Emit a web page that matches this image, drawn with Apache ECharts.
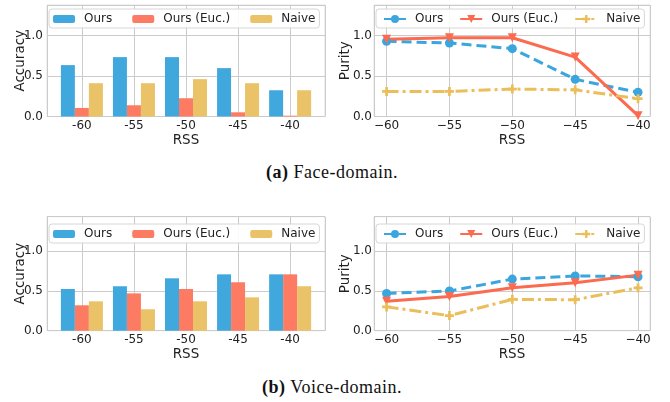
<!DOCTYPE html>
<html>
<head>
<meta charset="utf-8">
<script src="https://cdn.jsdelivr.net/npm/echarts@6/dist/echarts.min.js"></script>
<style>
  html, body { margin: 0; padding: 0; background: #fff; }
  body { width: 670px; height: 402px; position: relative; overflow: hidden; }
  .panel { position: absolute; }
  .caption { position: absolute; left: 0; width: 664px; text-align: center; font-family: 'Liberation Serif', serif; font-size: 18px; letter-spacing: 0.5px; color: #111; }
</style>
</head>
<body>
<div id="faceAcc" class="panel" style="left:0;top:0;width:335px;height:150px"></div>
<div id="facePur" class="panel" style="left:335px;top:0;width:335px;height:150px"></div>
<div class="caption" style="top:162px"><b>(a)</b> Face-domain.</div>
<div id="voiceAcc" class="panel" style="left:0;top:205px;width:335px;height:160px"></div>
<div id="voicePur" class="panel" style="left:335px;top:205px;width:335px;height:160px"></div>
<div class="caption" style="top:377px"><b>(b)</b> Voice-domain.</div>

<script>
// data
const rss = [-60, -55, -50, -45, -40]
const seriesNames = ['Ours', 'Ours (Euc.)', 'Naive']
const yTicks = [0, 0.5, 1.0]

const faceAccOurs = [0.636, 0.735, 0.735, 0.599, 0.325]
const faceAccEuc = [0.106, 0.139, 0.226, 0.052, 0.01]
const faceAccNaive = [0.412, 0.412, 0.462, 0.412, 0.325]

const facePurOurs = [0.93, 0.91, 0.84, 0.46, 0.30]
const facePurEuc = [0.955, 0.975, 0.975, 0.735, 0.01]
const facePurNaive = [0.31, 0.31, 0.34, 0.33, 0.22]

const voiceAccOurs = [0.525, 0.56, 0.66, 0.71, 0.71]
const voiceAccEuc = [0.32, 0.47, 0.525, 0.61, 0.71]
const voiceAccNaive = [0.37, 0.27, 0.37, 0.42, 0.56]

const voicePurOurs = [0.47, 0.50, 0.65, 0.69, 0.68]
const voicePurEuc = [0.37, 0.43, 0.54, 0.605, 0.70]
const voicePurNaive = [0.30, 0.19, 0.395, 0.39, 0.54]

const font = 'DejaVu Sans'
const textColor = '#222'
const gridColor = '#cbcbcb'
const barColors = ['#41a8de', '#fc7b62', '#eac267']
const lineColors = ['#3aa6dd', '#fc6a4f', '#ebbe5c']
const plusPath = 'path://M35,0H65V35H100V65H65V100H35V65H0V35H35Z'

function yLabel(v) {
  return yTicks.some(t => Math.abs(t - v) < 1e-6) ? v.toFixed(1) : ''
}

function xAxis(min, max, minus, nameGap) {
  return {
    type: 'value',
    min: min,
    max: max,
    minInterval: 5,
    maxInterval: 5,
    name: 'RSS',
    nameLocation: 'middle',
    nameGap: nameGap,
    nameMoveOverlap: false,
    nameTextStyle: { fontSize: 13.5, color: textColor, fontFamily: font },
    axisLine: { show: false },
    axisTick: { show: false },
    axisLabel: {
      margin: 3,
      fontSize: 12,
      color: textColor,
      fontFamily: font,
      formatter: v => rss.indexOf(v) >= 0 ? (minus ? String(v).replace('-', '\u2212') : String(v)) : ''
    },
    splitLine: { show: true, lineStyle: { color: gridColor, width: 1 } }
  }
}

function yAxis(name, max, nameGap, margin) {
  return {
    type: 'value',
    min: 0,
    max: max,
    interval: 0.5,
    name: name,
    nameLocation: 'middle',
    nameRotate: 90,
    nameGap: nameGap,
    nameMoveOverlap: false,
    nameTextStyle: { fontSize: 13.5, color: textColor, fontFamily: font },
    axisLine: { show: false },
    axisTick: { show: false },
    axisLabel: { margin: margin, fontSize: 12, color: textColor, fontFamily: font, formatter: yLabel },
    splitLine: { show: true, lineStyle: { color: gridColor, width: 1 } }
  }
}

function legend(left, top, itemHeight, padLeft, gap) {
  return {
    left: left,
    top: top,
    data: seriesNames,
    selectedMode: false,
    itemWidth: 22,
    itemHeight: itemHeight,
    itemGap: gap,
    padding: [4, 4, 3, padLeft],
    backgroundColor: 'rgba(255,255,255,0.9)',
    borderColor: '#d6d6d6',
    borderWidth: 1,
    borderRadius: 3,
    textStyle: { fontSize: 12, color: textColor, fontFamily: font, padding: [0, 0, 0, 4] }
  }
}

function pairs(vals) {
  return rss.map((x, i) => [x, vals[i]])
}

function barSeries(name, vals, color) {
  return {
    name: name,
    type: 'bar',
    data: pairs(vals),
    barWidth: 14,
    barGap: '0%',
    itemStyle: { color: color }
  }
}

function lineSeries(name, vals, color, symbol, rotate, dash) {
  return {
    name: name,
    type: 'line',
    data: pairs(vals),
    symbol: symbol,
    symbolSize: 9,
    symbolRotate: rotate,
    lineStyle: { color: color, width: 3, type: dash },
    itemStyle: { color: color }
  }
}

function gridOf(pos) {
  return Object.assign({ show: true, borderColor: '#e3e3e3', borderWidth: 1, outerBoundsMode: 'none', containLabel: false }, pos)
}

function accChart(id, grid, max, legendTop, ours, euc, naive) {
  const chart = echarts.init(document.getElementById(id))
  chart.setOption({
    animation: false,
    grid: gridOf(grid),
    legend: legend(49, legendTop, 8, 4, 20),
    xAxis: xAxis(-63.35, -36.65, false, 16.5),
    yAxis: yAxis('Accuracy', max, 20, 4),
    series: [
      barSeries(seriesNames[0], ours, barColors[0]),
      barSeries(seriesNames[1], euc, barColors[1]),
      barSeries(seriesNames[2], naive, barColors[2])
    ]
  })
  return chart
}

function purChart(id, grid, max, legendTop, ours, euc, naive) {
  const chart = echarts.init(document.getElementById(id))
  chart.setOption({
    animation: false,
    grid: gridOf(grid),
    legend: legend(41, legendTop, 10, 7, 16),
    xAxis: xAxis(-61, -39.05, true, 16.5),
    yAxis: yAxis('Purity', max, 22, 2),
    series: [
      lineSeries(seriesNames[0], ours, lineColors[0], 'circle', 0, [10, 5]),
      lineSeries(seriesNames[1], euc, lineColors[1], 'triangle', 180, 'solid'),
      lineSeries(seriesNames[2], naive, lineColors[2], plusPath, 0, [12, 4, 3, 4])
    ]
  })
  return chart
}

accChart('faceAcc', { left: 47, top: 5, width: 278, height: 111.5 }, 1.38, 9,
  faceAccOurs, faceAccEuc, faceAccNaive)
purChart('facePur', { left: 39, top: 5, width: 276, height: 111.5 }, 1.38, 9,
  facePurOurs, facePurEuc, facePurNaive)
accChart('voiceAcc', { left: 47, top: 11.7, width: 278, height: 114 }, 1.436, 19,
  voiceAccOurs, voiceAccEuc, voiceAccNaive)
purChart('voicePur', { left: 39, top: 11.7, width: 276, height: 114 }, 1.436, 19,
  voicePurOurs, voicePurEuc, voicePurNaive)
</script>
</body>
</html>
